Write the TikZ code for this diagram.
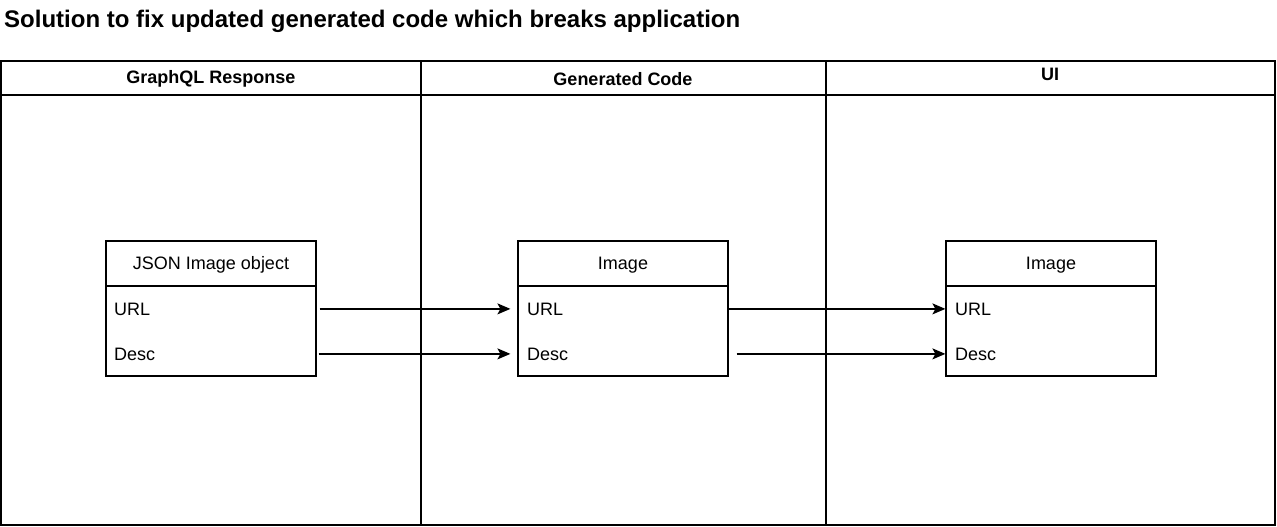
\documentclass[tikz,border=0pt]{standalone}
\usepackage{fontspec}
\setmainfont{Liberation Sans}
\usetikzlibrary{arrows.meta}
\begin{document}
\begin{tikzpicture}[x=1pt,y=-1pt,
  pool/.style={draw=black,line width=1.4pt},
  lanehead/.style={anchor=base,font=\bfseries\fontsize{18}{22}\selectfont,inner sep=0pt},
  boxhead/.style={draw=black,line width=1.2pt,minimum width=210pt,minimum height=45pt,inner sep=0pt},
  boxbody/.style={draw=black,line width=1.2pt,minimum width=210pt,minimum height=90pt,inner sep=0pt},
  boxtitle/.style={anchor=base,inner sep=0pt,font=\fontsize{18}{22}\selectfont},
  field/.style={anchor=base west,inner sep=0pt,font=\fontsize{18}{22}\selectfont},
  arr/.style={line width=1.4pt,-{Stealth[length=13pt,width=11pt,inset=3pt]}}
]
\useasboundingbox (0,0) rectangle (1277,527);
\node[anchor=base west,inner sep=0pt,font=\bfseries\fontsize{24}{28}\selectfont] (title) at (4,28) {Solution to fix updated generated code which breaks application};
% pool
\draw[pool] (1,61) rectangle (1275,525);
\draw[pool] (1,95) -- (1275,95);
\draw[pool] (421,61) -- (421,525);
\draw[pool] (826,61) -- (826,525);
\node[lanehead] (l1) at (211,83) {GraphQL Response};
\node[lanehead] (l2) at (623,85) {Generated Code};
\node[lanehead] (l3) at (1050,81) {UI};
% boxes
\node[boxhead] (b1h) at (211,263.5) {};
\node[boxtitle] (b1t) at (211,269) {JSON Image object};
\node[boxbody] (b1) at (211,331) {};
\node[field] (b1url) at (114,315) {URL};
\node[field] (b1desc) at (114,360) {Desc};
\node[boxhead] (b2h) at (623,263.5) {};
\node[boxtitle] (b2t) at (623,269) {Image};
\node[boxbody] (b2) at (623,331) {};
\node[field] (b2url) at (527,315) {URL};
\node[field] (b2desc) at (527,360) {Desc};
\node[boxhead] (b3h) at (1051,263.5) {};
\node[boxtitle] (b3t) at (1051,269) {Image};
\node[boxbody] (b3) at (1051,331) {};
\node[field] (b3url) at (955,315) {URL};
\node[field] (b3desc) at (955,360) {Desc};
% arrows
\draw[arr] ([xshift=3pt]b1.east |- b1url.center) -- ([xshift=-7pt]b2.west |- b2url.center);
\draw[arr] ([xshift=2pt]b1.east |- b1desc.center) -- ([xshift=-7pt]b2.west |- b2desc.center);
\draw[arr] (b2.east |- b2url.center) -- (b3.west |- b3url.center);
\draw[arr] ([xshift=8pt]b2.east |- b2desc.center) -- (b3.west |- b3desc.center);
\end{tikzpicture}
\end{document}
